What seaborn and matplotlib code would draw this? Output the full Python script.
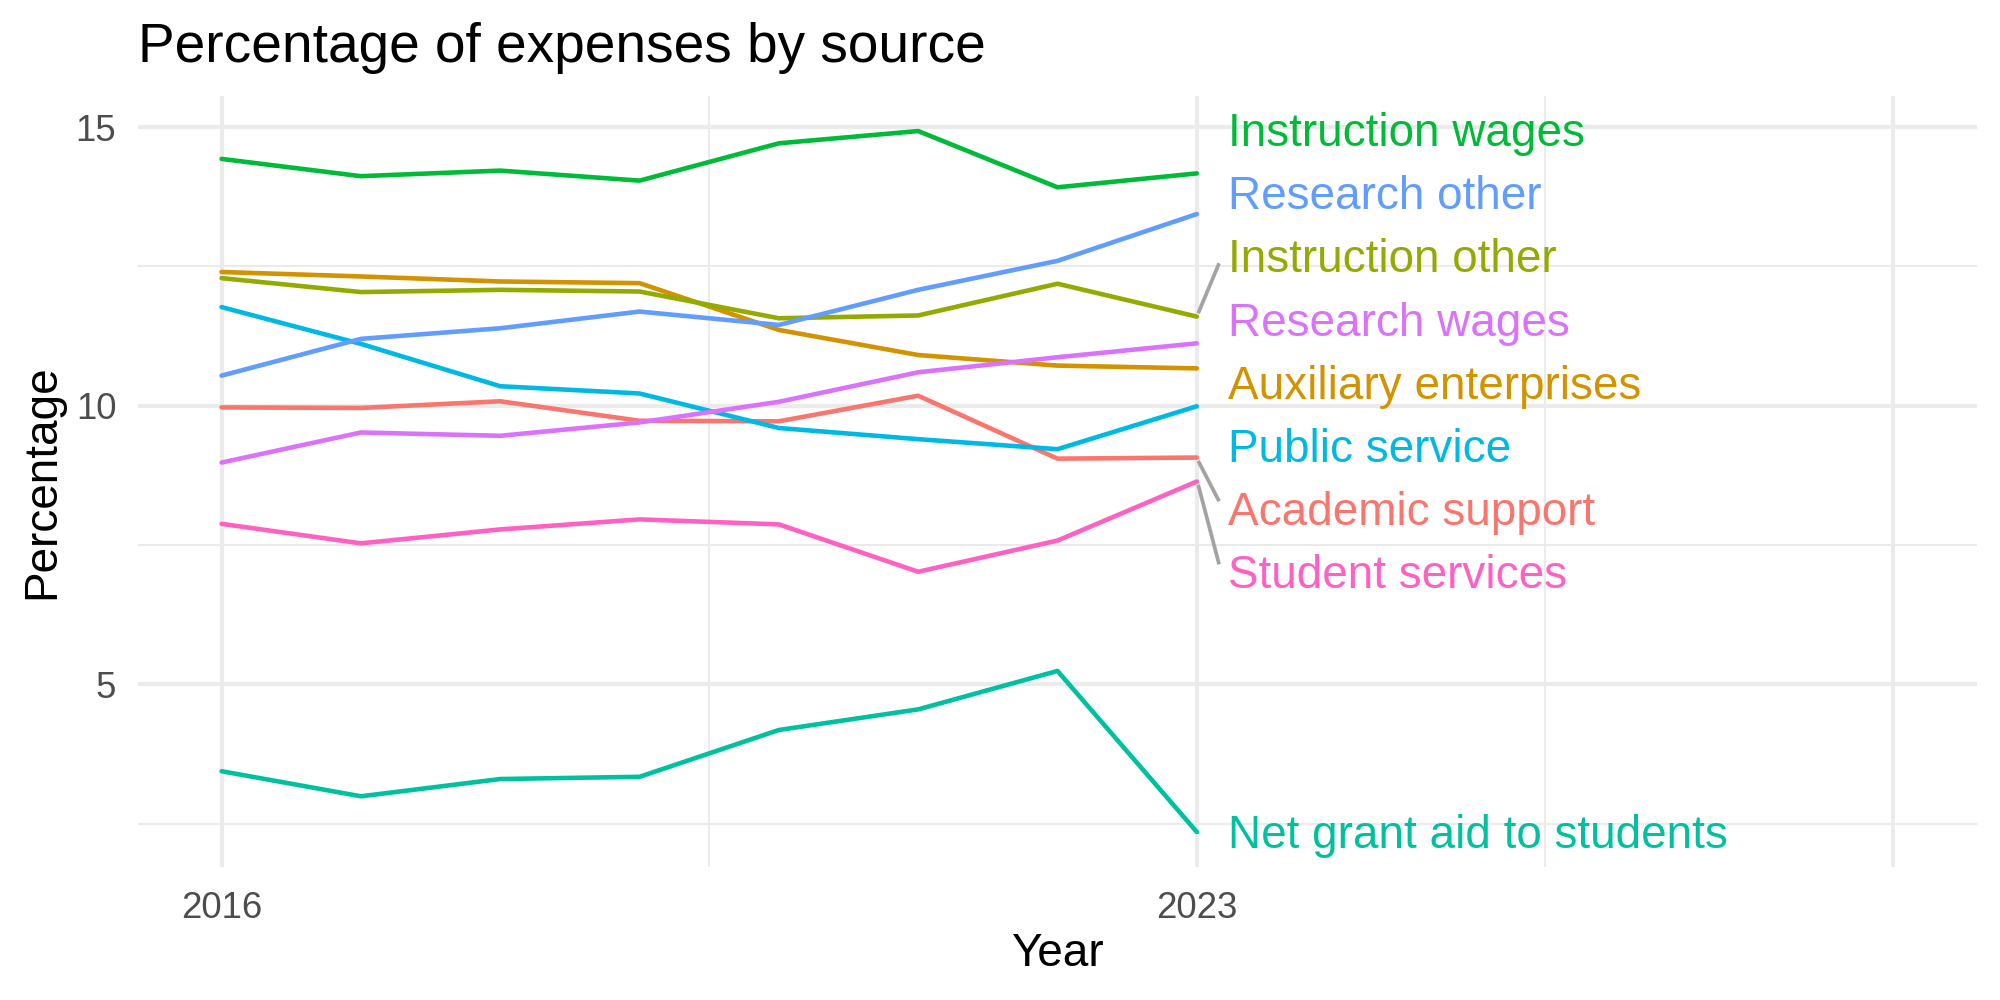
import matplotlib

matplotlib.use("Agg")
import matplotlib.pyplot as plt
import numpy as np
import pandas as pd
import seaborn as sns

# --- data ---
years = [2016, 2017, 2018, 2019, 2020, 2021, 2022, 2023]

academic_support = [9.97, 9.96, 10.08, 9.73, 9.72, 10.18, 9.05, 9.07]
auxiliary_enterprises = [12.40, 12.32, 12.23, 12.20, 11.36, 10.91, 10.72, 10.67]
instruction_other = [12.29, 12.04, 12.08, 12.05, 11.57, 11.62, 12.19, 11.60]
instruction_wages = [14.43, 14.12, 14.22, 14.04, 14.71, 14.93, 13.92, 14.17]
net_grant_aid = [3.44, 2.99, 3.30, 3.34, 4.18, 4.55, 5.24, 2.35]
public_service = [11.77, 11.11, 10.35, 10.22, 9.60, 9.40, 9.22, 9.99]
research_other = [10.54, 11.20, 11.39, 11.69, 11.45, 12.08, 12.60, 13.44]
research_wages = [8.98, 9.52, 9.46, 9.70, 10.07, 10.60, 10.87, 11.12]
student_services = [7.88, 7.53, 7.78, 7.96, 7.87, 7.02, 7.58, 8.64]

sources = [
    "Academic support",
    "Auxiliary enterprises",
    "Instruction other",
    "Instruction wages",
    "Net grant aid to students",
    "Public service",
    "Research other",
    "Research wages",
    "Student services",
]
series = [
    academic_support,
    auxiliary_enterprises,
    instruction_other,
    instruction_wages,
    net_grant_aid,
    public_service,
    research_other,
    research_wages,
    student_services,
]
# ggplot default hue palette for 9 levels
colors = [
    "#F8766D", "#D39200", "#93AA00", "#00BA38", "#00C19F",
    "#00B9E3", "#619CFF", "#DB72FB", "#FF61C3",
]

x_breaks = [2016, 2023, 2028]
x_labels = ["2016", "2023", ""]
x_minor = [2019.5, 2025.5]
y_breaks = [5, 10, 15]
y_minor = [2.5, 7.5, 12.5]

df = pd.DataFrame(
    [(y, s, v) for s, vals in zip(sources, series) for y, v in zip(years, vals)],
    columns=["Year", "Source", "Percentage"],
)


def spread_labels(values, gap, nudge=0.0):
    """Very small 1-d repel: push overlapping labels apart around their mean."""
    order = np.argsort(values)
    groups = [[i] for i in order]

    def positions(g):
        c = np.mean([values[i] for i in g])
        n = len(g)
        return [c + (k - (n - 1) / 2) * gap for k in range(n)]

    merged = True
    while merged:
        merged = False
        for k in range(len(groups) - 1):
            if positions(groups[k])[-1] + gap > positions(groups[k + 1])[0]:
                groups[k] = groups[k] + groups[k + 1]
                del groups[k + 1]
                merged = True
                break
    out = np.zeros(len(values))
    for g in groups:
        shift = nudge if len(g) > 1 else 0.0
        for i, p in zip(g, positions(g)):
            out[i] = p + shift
    return out


# --- plot ---
sns.set_theme(style="white")
plt.rcParams["font.family"] = ["Liberation Sans", "DejaVu Sans"]

fig, ax = plt.subplots(figsize=(2000 / 300, 1000 / 300), dpi=300)
fig.subplots_adjust(left=0.069, right=0.9885, top=0.904, bottom=0.133)

sns.lineplot(
    data=df,
    x="Year",
    y="Percentage",
    hue="Source",
    hue_order=sources,
    palette=dict(zip(sources, colors)),
    linewidth=1.1,
    legend=False,
    ax=ax,
)

# axes / grid in the style of theme_minimal
ax.set_xlim(2016 - 0.05 * 12, 2028 + 0.05 * 12)
ax.margins(y=0.05)
ax.set_xticks(x_breaks)
ax.set_xticklabels(x_labels)
ax.set_xticks(x_minor, minor=True)
ax.set_yticks(y_breaks)
ax.set_yticks(y_minor, minor=True)
ax.grid(which="major", color="#EBEBEB", linewidth=1.0)
ax.grid(which="minor", color="#EBEBEB", linewidth=0.5)
ax.set_axisbelow(True)
for sp in ax.spines.values():
    sp.set_visible(False)
ax.tick_params(axis="both", which="both", length=0, labelsize=8.8, labelcolor="#4D4D4D")
ax.tick_params(axis="x", pad=5.8)
ax.tick_params(axis="y", pad=5.2)
ax.set_xlabel("")
ax.set_ylabel("")

# end labels, repelled vertically
last_vals = np.array([vals[-1] for vals in series])
label_y = spread_labels(last_vals, 1.133, nudge=-0.1)
x_end = years[-1]
cap_half = 11 * 0.716 / 2
for src, col, v, ly in zip(sources, colors, last_vals, label_y):
    ax.annotate(
        src,
        xy=(x_end, ly),
        xytext=(7.5, -cap_half),
        textcoords="offset points",
        fontsize=11,
        color=col,
        ha="left",
        va="baseline",
        annotation_clip=False,
    )
    d = ly - v
    if abs(d) > 0.85:
        sgn = np.sign(d)
        ax.plot(
            [x_end + 0.01, x_end + 0.16],
            [v + 0.06 * sgn, ly - 0.13 * sgn],
            color="#A3A3A3",
            linewidth=0.9,
            solid_capstyle="butt",
        )

fig.text(0.069, 0.9375, "Percentage of expenses by source", fontsize=13.2, color="black", ha="left", va="baseline")
fig.text(0.5288, 0.034, "Year", fontsize=11, color="black", ha="center", va="baseline")
fig.text(0.021, 0.5185, "Percentage", fontsize=11, color="black", rotation=90, ha="center", va="center")

plt.savefig("out.png", dpi=300)
